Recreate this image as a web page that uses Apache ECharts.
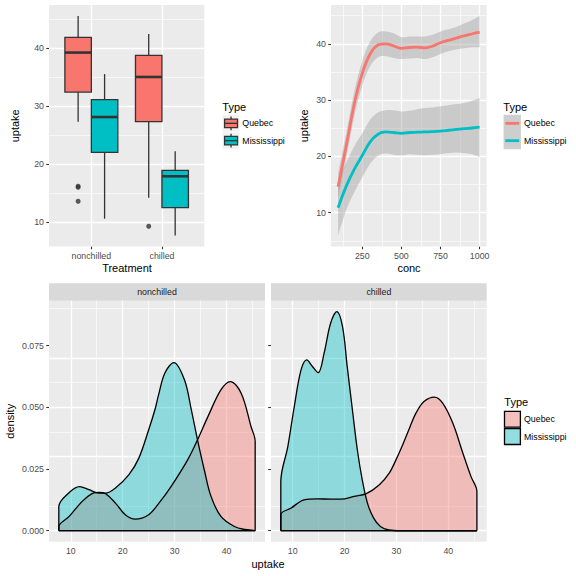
<!DOCTYPE html>
<html><head><meta charset="utf-8">
<script src="https://cdn.jsdelivr.net/npm/echarts@6/dist/echarts.min.js"></script>
<style>html,body{margin:0;padding:0;background:#fff}#c{width:576px;height:576px}</style>
</head><body><div id="c"></div>
<script>
// ---------------- data ----------------
const treatments = ['nonchilled', 'chilled'];
const types = ['Quebec', 'Mississippi'];
const typeColors = ['#F8766D', '#00BFC4'];
// boxplot stats per treatment: [lower whisker, Q1, median, Q3, upper whisker]
const boxQuebec = [[27.3, 32.4, 39.2, 41.8, 45.5], [14.2, 27.3, 35.0, 38.7, 42.4]];
const boxMississippi = [[10.6, 22.0, 28.1, 31.1, 35.5], [7.7, 12.5, 17.9, 18.9, 22.2]];
// outliers: [treatment index, uptake]
const outQuebec = [[0, 13.6], [0, 16.0], [0, 16.2], [1, 9.3]];
const outMississippi = [];
// tick labels
const uptakeTicks = [10, 20, 30, 40];
const uptakeMinor = [15, 25, 35, 45];
const uptakeMinorTR = [5, 15, 25, 35, 45];
const concTicks = [250, 500, 750, 1000];
const concMinor = [125, 375, 625, 875];
const densTicks = [0, 0.025, 0.05, 0.075];
const densMinor = [0.0125, 0.0375, 0.0625, 0.0875];
// smooth (loess) fits with confidence band
const concGrid = [95, 150, 200, 250, 300, 350, 400, 450, 500, 550, 600, 650, 700, 750, 800, 850, 900, 950, 1000];
const quebecFit = [14.6, 22.3, 29.5, 34.8, 38.2, 39.8, 40.0, 39.65, 39.2, 39.35, 39.4, 39.3, 39.6, 40.2, 40.6, 41.0, 41.4, 41.75, 42.1];
const quebecLo  = [12.3, 20.1, 27.3, 32.6, 36.0, 37.6, 37.8, 37.5, 37.3, 37.4, 37.5, 37.3, 37.6, 38.2, 38.7, 39.0, 39.2, 39.4, 39.4];
const quebecHi  = [16.9, 24.5, 31.7, 37.0, 40.4, 42.0, 42.2, 41.9, 41.2, 41.3, 41.3, 41.3, 41.6, 42.2, 42.6, 43.0, 43.6, 44.2, 44.95];
const missFit = [10.9, 14.9, 17.8, 20.2, 22.6, 23.95, 24.35, 24.25, 24.1, 24.25, 24.3, 24.35, 24.4, 24.5, 24.65, 24.8, 24.95, 25.05, 25.2];
const missLo  = [6.0, 10.7, 13.7, 16.3, 18.7, 20.1, 20.5, 20.3, 20.2, 20.4, 20.3, 20.2, 20.3, 20.4, 20.6, 20.7, 20.6, 20.4, 19.9];
const missHi  = [15.8, 19.1, 21.9, 24.1, 26.5, 27.8, 28.2, 28.2, 28.0, 28.1, 28.4, 28.6, 28.7, 28.9, 29.1, 29.3, 29.5, 29.9, 30.4];
// densities (uptake, density)
const ncQuebecX = [7.7, 9.7, 12.2, 14.1, 15.4, 16.7, 18.6, 20.5, 22.4, 25.0, 26.9, 29.3, 32.5, 34.4, 36.4, 38.9, 40.7, 42.8, 44.7, 45.5];
const ncQuebecY = [0.0017, 0.0058, 0.0119, 0.0150, 0.0155, 0.0150, 0.0112, 0.0065, 0.0047, 0.0065, 0.0110, 0.0179, 0.0287, 0.0368, 0.0462, 0.0570, 0.0604, 0.0557, 0.0422, 0.0361];
const ncMissX = [7.7, 9.7, 11.7, 13.5, 15.4, 16.7, 18.6, 21.2, 23.1, 25.0, 26.2, 26.9, 28.1, 29.85, 31.9, 33.2, 34.4, 35.7, 37.0, 38.9, 41.5, 43.5, 45.5];
const ncMissY = [0.0098, 0.0155, 0.0179, 0.0166, 0.0152, 0.0152, 0.0173, 0.0227, 0.0294, 0.0409, 0.0490, 0.0550, 0.0638, 0.0681, 0.0610, 0.0490, 0.0368, 0.0247, 0.0139, 0.0058, 0.0017, 0.0005, 0.0001];
const cQuebecX = [7.7, 9.7, 12.2, 14.8, 17.3, 19.3, 21.8, 24.2, 26.7, 28.6, 29.9, 31.2, 32.5, 33.75, 35.3, 37.3, 38.9, 40.85, 42.8, 44.35, 45.5];
const cQuebecY = [0.0065, 0.0092, 0.0125, 0.0129, 0.0128, 0.0128, 0.0139, 0.0150, 0.0186, 0.0233, 0.0287, 0.0348, 0.0415, 0.0476, 0.0523, 0.0541, 0.0517, 0.0436, 0.0314, 0.0220, 0.0159];
const cMissX = [7.7, 9.05, 10.3, 11.6, 12.7, 13.8, 14.9, 16.05, 17.3, 18.5, 19.6, 20.5, 21.5, 22.45, 23.4, 24.4, 25.6, 26.9, 28.5, 31.0, 45.5];
const cMissY = [0.0199, 0.0341, 0.0503, 0.0651, 0.0692, 0.0665, 0.0640, 0.0719, 0.0840, 0.0887, 0.0826, 0.0665, 0.0490, 0.0328, 0.0206, 0.0112, 0.0051, 0.0017, 0.0003, 0.0, 0.0];

// ---------------- chart ----------------
const FONT = '"Liberation Sans", Arial, Helvetica, sans-serif';
const chart = echarts.init(document.getElementById('c'), null, {renderer: 'svg', width: 576, height: 576});
const DODGE = 0.1875, HALF = 0.1875;

const grid = [
  {left: 49, top: 5, width: 155.3, height: 241.5},
  {left: 331, top: 5, width: 155.7, height: 241.5},
  {left: 49, top: 300.7, width: 216, height: 241},
  {left: 271, top: 300.7, width: 215.7, height: 241}
].map(g => Object.assign(g, {show: true, backgroundColor: '#EBEBEB', borderWidth: 0}));

function axis(gi, min, max, ticks, fmt, showLabels, isY) {
  return {
    type: 'value', gridIndex: gi, min: min, max: max, position: isY ? 'left' : 'bottom',
    axisLine: {show: false},
    axisTick: {show: true, length: 2.75, customValues: ticks, lineStyle: {color: '#333333', width: 1.1}},
    axisLabel: {show: showLabels, customValues: ticks, formatter: fmt, color: '#4D4D4D',
      fontSize: 8.8, fontFamily: FONT, margin: isY ? 5 : 4.5},
    splitLine: {show: false}, minorSplitLine: {show: false}
  };
}
const xAxis = [
  axis(0, 0.4, 2.6, [1, 2], v => treatments[Math.round(v) - 1], true, false),
  axis(1, 49.75, 1045.25, concTicks, v => String(v), true, false),
  axis(2, 5.81, 47.39, uptakeTicks, v => String(v), true, false),
  axis(3, 5.81, 47.39, uptakeTicks, v => String(v), true, false)
];
const yAxis = [
  axis(0, 5.81, 47.39, uptakeTicks, v => String(v), true, true),
  axis(1, 4.0, 46.9, uptakeTicks, v => String(v), true, true),
  axis(2, -0.00444, 0.09314, densTicks, v => v.toFixed(3), true, true),
  axis(3, -0.00444, 0.09314, densTicks, v => v.toFixed(3), false, true)
];

function gridLines(gi, xMaj, xMin, yMaj, yMin) {
  const d = [];
  const maj = {color: '#FFFFFF', width: 1.3, type: 'solid'};
  const mnr = {color: '#FFFFFF', width: 0.6, type: 'solid'};
  xMin.forEach(v => d.push({xAxis: v, lineStyle: mnr}));
  yMin.forEach(v => d.push({yAxis: v, lineStyle: mnr}));
  xMaj.forEach(v => d.push({xAxis: v, lineStyle: maj}));
  yMaj.forEach(v => d.push({yAxis: v, lineStyle: maj}));
  return {
    type: 'line', xAxisIndex: gi, yAxisIndex: gi, data: [], silent: true, z: 1,
    markLine: {silent: true, symbol: ['none', 'none'], z: 1, label: {show: false},
      emphasis: {disabled: true}, animation: false, data: d}
  };
}

function boxRender(offset, color) {
  return function (params, api) {
    const x = api.value(0) + offset;
    const lo = api.value(1), q1 = api.value(2), med = api.value(3), q3 = api.value(4), hi = api.value(5);
    const pL = api.coord([x - HALF, q3]);
    const pR = api.coord([x + HALF, q1]);
    const pc = api.coord([x, med]);
    const pHi = api.coord([x, hi]);
    const pLo = api.coord([x, lo]);
    const st = {stroke: '#333333', lineWidth: 1.3};
    return {type: 'group', children: [
      {type: 'line', shape: {x1: pc[0], y1: pHi[1], x2: pc[0], y2: pL[1]}, style: st},
      {type: 'line', shape: {x1: pc[0], y1: pR[1], x2: pc[0], y2: pLo[1]}, style: st},
      {type: 'rect', shape: {x: pL[0], y: pL[1], width: pR[0] - pL[0], height: pR[1] - pL[1]},
        style: {fill: color, stroke: '#333333', lineWidth: 1.3}},
      {type: 'line', shape: {x1: pL[0], y1: pc[1], x2: pR[0], y2: pc[1]}, style: {stroke: '#333333', lineWidth: 2.6}}
    ]};
  };
}

function densSeries(gi, name, xs, ys, color) {
  const data = [[xs[0], 0]].concat(xs.map((x, i) => [x, ys[i]])).concat([[xs[xs.length - 1], 0]]);
  return {
    type: 'line', name: name, xAxisIndex: gi, yAxisIndex: gi, data: data, smooth: 0.35,
    symbol: 'none', lineStyle: {color: '#000000', width: 1.3},
    areaStyle: {color: color, opacity: 0.4}, z: 2
  };
}
function baseline(gi, xs) {
  return {type: 'line', xAxisIndex: gi, yAxisIndex: gi, symbol: 'none', z: 3,
    data: [[xs[0], 0], [xs[xs.length - 1], 0]], lineStyle: {color: '#000000', width: 1.3}};
}

// smooth path through pixel points (cardinal spline)
function splinePath(pts, start) {
  let d = (start ? 'M' : 'L') + pts[0][0] + ',' + pts[0][1];
  for (let i = 0; i < pts.length - 1; i++) {
    const p0 = pts[i - 1] || pts[i], p1 = pts[i], p2 = pts[i + 1], p3 = pts[i + 2] || pts[i + 1];
    const t = 1 / 6;
    const c1 = [p1[0] + (p2[0] - p0[0]) * t, p1[1] + (p2[1] - p0[1]) * t];
    const c2 = [p2[0] - (p3[0] - p1[0]) * t, p2[1] - (p3[1] - p1[1]) * t];
    d += 'C' + c1[0] + ',' + c1[1] + ',' + c2[0] + ',' + c2[1] + ',' + p2[0] + ',' + p2[1];
  }
  return d;
}
const bandColor = 'rgba(153,153,153,0.4)';
function bandSeries(name, lo, hi) {
  return {
    type: 'custom', name: name + ' band', xAxisIndex: 1, yAxisIndex: 1, z: 2, silent: true,
    data: concGrid.map((c, i) => [c, lo[i], hi[i]]), encode: {x: 0, y: [1, 2]},
    renderItem: function (params, api) {
      if (params.dataIndex !== 0) return null;
      const top = concGrid.map((c, i) => api.coord([c, hi[i]]));
      const bot = concGrid.map((c, i) => api.coord([c, lo[i]])).reverse();
      const d = splinePath(top, true) + splinePath(bot, false) + 'Z';
      return {type: 'path', shape: {pathData: d}, style: {fill: bandColor, stroke: 'none'}};
    }
  };
}
function fitSeries(name, fit, color) {
  return {type: 'line', name: name, xAxisIndex: 1, yAxisIndex: 1, smooth: 0.35, symbol: 'none', z: 3,
    data: concGrid.map((c, i) => [c, fit[i]]), lineStyle: {color: color, width: 2.8}};
}

const series = [
  gridLines(0, [1, 2], [], uptakeTicks, uptakeMinor),
  gridLines(1, concTicks, concMinor, uptakeTicks, uptakeMinorTR),
  gridLines(2, uptakeTicks, uptakeMinor, densTicks, densMinor),
  gridLines(3, uptakeTicks, uptakeMinor, densTicks, densMinor),
  // boxplots
  {type: 'custom', name: 'Quebec', xAxisIndex: 0, yAxisIndex: 0, renderItem: boxRender(-DODGE, typeColors[0]),
    data: treatments.map((t, i) => [i + 1].concat(boxQuebec[i])), encode: {x: 0, y: [1, 2, 3, 4, 5]}, z: 2},
  {type: 'custom', name: 'Mississippi', xAxisIndex: 0, yAxisIndex: 0, renderItem: boxRender(DODGE, typeColors[1]),
    data: treatments.map((t, i) => [i + 1].concat(boxMississippi[i])), encode: {x: 0, y: [1, 2, 3, 4, 5]}, z: 2},
  {type: 'scatter', name: 'outliers', xAxisIndex: 0, yAxisIndex: 0, symbolSize: 5, z: 3,
    itemStyle: {color: '#333333'},
    data: outQuebec.map(o => [o[0] + 1 - DODGE, o[1]]).concat(outMississippi.map(o => [o[0] + 1 + DODGE, o[1]]))},
  // smooth
  bandSeries('Quebec', quebecLo, quebecHi),
  bandSeries('Mississippi', missLo, missHi),
  fitSeries('Quebec', quebecFit, typeColors[0]),
  fitSeries('Mississippi', missFit, typeColors[1]),
  // densities
  densSeries(2, 'Quebec', ncQuebecX, ncQuebecY, typeColors[0]),
  densSeries(2, 'Mississippi', ncMissX, ncMissY, typeColors[1]),
  baseline(2, ncQuebecX),
  densSeries(3, 'Quebec', cQuebecX, cQuebecY, typeColors[0]),
  densSeries(3, 'Mississippi', cMissX, cMissY, typeColors[1]),
  baseline(3, cQuebecX)
];

// ---------------- annotations: titles, strips, legends ----------------
const g = [];
function txt(t, x, y, size, color, align, rot) {
  g.push({type: 'text', x: x, y: y, rotation: rot || 0, silent: true,
    style: {text: t, fill: color || '#000000', fontSize: size, fontFamily: FONT,
      align: align || 'center', verticalAlign: 'middle'}});
}
txt('uptake', 15, 125.8, 11, '#000', 'center', Math.PI / 2);
txt('Treatment', 127, 268.3, 11);
txt('uptake', 303.5, 125.8, 11, '#000', 'center', Math.PI / 2);
txt('conc', 409, 267.7, 11);
txt('density', 10, 421.3, 11, '#000', 'center', Math.PI / 2);
txt('uptake', 268, 564, 11);
// strips
[[49, 216, treatments[0]], [271, 215.7, treatments[1]]].forEach(s => {
  g.push({type: 'rect', shape: {x: s[0], y: 283.3, width: s[1], height: 17.4}, style: {fill: '#D9D9D9'}, silent: true});
  txt(s[2], s[0] + s[1] / 2, 292, 8.8, '#1A1A1A');
});
const K = 17.3;
// legend 1 (boxplot)
txt('Type', 222.3, 107, 11, '#000', 'left');
types.forEach((t, i) => {
  const x0 = 222.4, y0 = 114.7 + i * K, cx = x0 + K / 2, cy = y0 + K / 2;
  g.push({type: 'rect', shape: {x: x0, y: y0, width: K, height: K}, style: {fill: '#F2F2F2', stroke: '#FFFFFF', lineWidth: 0.5}, silent: true});
  const st = {stroke: '#333333', lineWidth: 1.3};
  g.push({type: 'line', shape: {x1: cx, y1: y0 + 0.1 * K, x2: cx, y2: y0 + 0.25 * K}, style: st, silent: true});
  g.push({type: 'line', shape: {x1: cx, y1: y0 + 0.75 * K, x2: cx, y2: y0 + 0.9 * K}, style: st, silent: true});
  g.push({type: 'rect', shape: {x: x0 + 0.125 * K, y: y0 + 0.25 * K, width: 0.75 * K, height: 0.5 * K},
    style: {fill: typeColors[i], stroke: '#333333', lineWidth: 1.3}, silent: true});
  g.push({type: 'line', shape: {x1: x0 + 0.125 * K, y1: cy, x2: x0 + 0.875 * K, y2: cy}, style: st, silent: true});
  txt(t, 242.3, cy, 8.8, '#000', 'left');
});
// legend 2 (smooth)
txt('Type', 503.3, 107, 11, '#000', 'left');
types.forEach((t, i) => {
  const x0 = 503.6, y0 = 114.7 + i * K, cy = y0 + K / 2;
  g.push({type: 'rect', shape: {x: x0, y: y0, width: K, height: K}, style: {fill: '#CECECE'}, silent: true});
  g.push({type: 'line', shape: {x1: x0 + 0.1 * K, y1: cy, x2: x0 + 0.9 * K, y2: cy},
    style: {stroke: typeColors[i], lineWidth: 2.8}, silent: true});
  txt(t, 524, cy, 8.8, '#000', 'left');
});
// legend 3 (density)
txt('Type', 504.3, 402.3, 11, '#000', 'left');
types.forEach((t, i) => {
  const x0 = 503.8, y0 = 410.6 + i * K, cy = y0 + K / 2;
  g.push({type: 'rect', shape: {x: x0, y: y0, width: K, height: K}, style: {fill: '#F2F2F2'}, silent: true});
  g.push({type: 'rect', shape: {x: x0 + 0.7, y: y0 + 0.7, width: K - 1.4, height: K - 1.4},
    style: {fill: typeColors[i], opacity: 1, stroke: 'none'}, silent: true, z: 10});
  g.push({type: 'rect', shape: {x: x0 + 0.7, y: y0 + 0.7, width: K - 1.4, height: K - 1.4},
    style: {fill: 'rgba(242,242,242,0.6)', stroke: '#000000', lineWidth: 1.3}, silent: true, z: 11});
  txt(t, 524, cy, 8.8, '#000', 'left');
});

chart.setOption({
  animation: false,
  backgroundColor: '#FFFFFF',
  textStyle: {fontFamily: FONT},
  grid: grid, xAxis: xAxis, yAxis: yAxis, series: series, graphic: g
});
</script>
</body></html>
